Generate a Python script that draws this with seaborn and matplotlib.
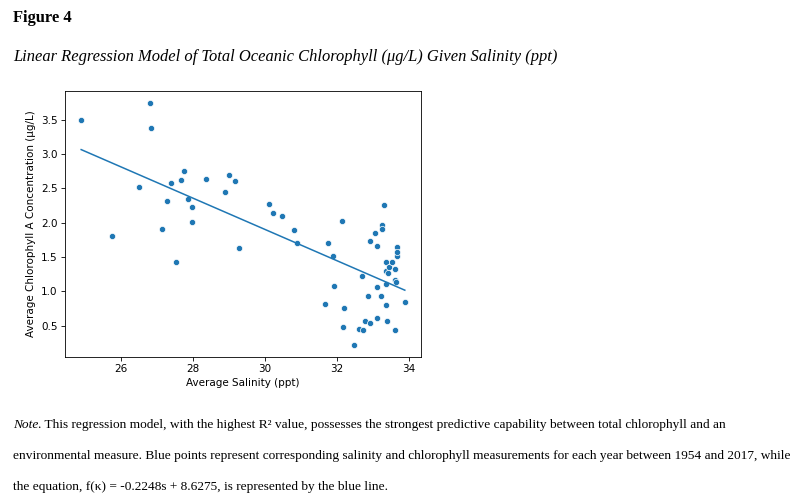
import matplotlib
matplotlib.use("Agg")
import matplotlib.pyplot as plt
import seaborn as sns
import pandas as pd

salinity = [24.89, 25.75, 26.51, 26.81, 26.84, 27.13, 27.29, 27.39, 27.53, 27.67,
            27.76, 27.87, 27.97, 27.97, 28.35, 28.88, 29.01, 29.18, 29.27,
            30.12, 30.22, 30.48, 30.80, 30.88,
            31.67, 31.74, 31.90, 31.91, 32.14, 32.18, 32.21, 32.47, 32.62, 32.69,
            32.72, 32.78, 32.88, 32.92, 32.92, 33.06, 33.11, 33.13, 33.13, 33.23,
            33.26, 33.26, 33.31, 33.36, 33.38, 33.38, 33.38, 33.40, 33.43, 33.45,
            33.53, 33.62, 33.62, 33.63, 33.65, 33.66, 33.67, 33.68, 33.89]
chlorophyll = [3.49, 1.81, 2.52, 3.74, 3.38, 1.90, 2.32, 2.58, 1.42, 2.62,
               2.75, 2.34, 2.23, 2.01, 2.64, 2.45, 2.69, 2.61, 1.63,
               2.27, 2.14, 2.10, 1.89, 1.70,
               0.81, 1.71, 1.51, 1.08, 2.02, 0.48, 0.75, 0.22, 0.45, 1.23,
               0.44, 0.57, 0.93, 0.54, 1.73, 1.85, 0.61, 1.66, 1.07, 0.93,
               1.96, 1.90, 2.26, 1.42, 1.30, 1.11, 0.80, 0.57, 1.26, 1.36,
               1.43, 1.32, 0.44, 1.16, 1.13, 1.51, 1.65, 1.57, 0.85]

df = pd.DataFrame({"salinity": salinity, "chlorophyll": chlorophyll})

fig = plt.figure(figsize=(7.94, 5.03), dpi=100)
ax = fig.add_axes([65 / 794, 1 - 357 / 503, (421 - 65) / 794, (357 - 91) / 503])

sns.scatterplot(data=df, x="salinity", y="chlorophyll", ax=ax, s=20,
                color="#1f77b4", edgecolor="white", linewidth=0.5)
sns.regplot(data=df, x="salinity", y="chlorophyll", ax=ax, scatter=False, ci=None,
            color="#1f77b4", line_kws={"linewidth": 1.1})

ax.set_xticks([26, 28, 30, 32, 34])
ax.set_yticks([0.5, 1.0, 1.5, 2.0, 2.5, 3.0, 3.5])
ax.set_xlabel("Average Salinity (ppt)", fontsize=7.5, labelpad=2.5)
ax.set_ylabel("Average Chlorophyll A Concentration (μg/L)", fontsize=7.5, labelpad=4)
ax.tick_params(labelsize=7.5, length=2.6, width=0.6, pad=2.6)
for sp in ax.spines.values():
    sp.set_linewidth(0.6)

serif = ["Liberation Serif", "DejaVu Serif"]
fig.text(13 / 794, 1 - 18 / 503, "Figure 4", fontsize=11.9, fontweight="bold",
         family=serif, va="center", ha="left")
fig.text(13 / 794, 1 - 57 / 503,
         "Linear Regression Model of Total Oceanic Chlorophyll (μg/L) Given Salinity (ppt)",
         fontsize=11.9, style="italic", family=serif, va="center", ha="left")

note_fs = 9.6
t = fig.text(13 / 794, 1 - 425 / 503, "Note", fontsize=note_fs, style="italic",
             family=serif, va="center", ha="left")
fig.canvas.draw()
r = fig.canvas.get_renderer()
bb = t.get_window_extent(r)
fig.text(bb.x1 / 794, 1 - 425 / 503,
         ". This regression model, with the highest R² value, possesses the strongest predictive capability between total chlorophyll and an",
         fontsize=note_fs, family=serif, va="center", ha="left")
fig.text(13 / 794, 1 - 456 / 503,
         "environmental measure. Blue points represent corresponding salinity and chlorophyll measurements for each year between 1954 and 2017, while",
         fontsize=note_fs, family=serif, va="center", ha="left")
fig.text(13 / 794, 1 - 487 / 503,
         "the equation, f(κ) = -0.2248s + 8.6275, is represented by the blue line.",
         fontsize=note_fs, family=serif, va="center", ha="left")

fig.savefig("out.png", dpi=100)
